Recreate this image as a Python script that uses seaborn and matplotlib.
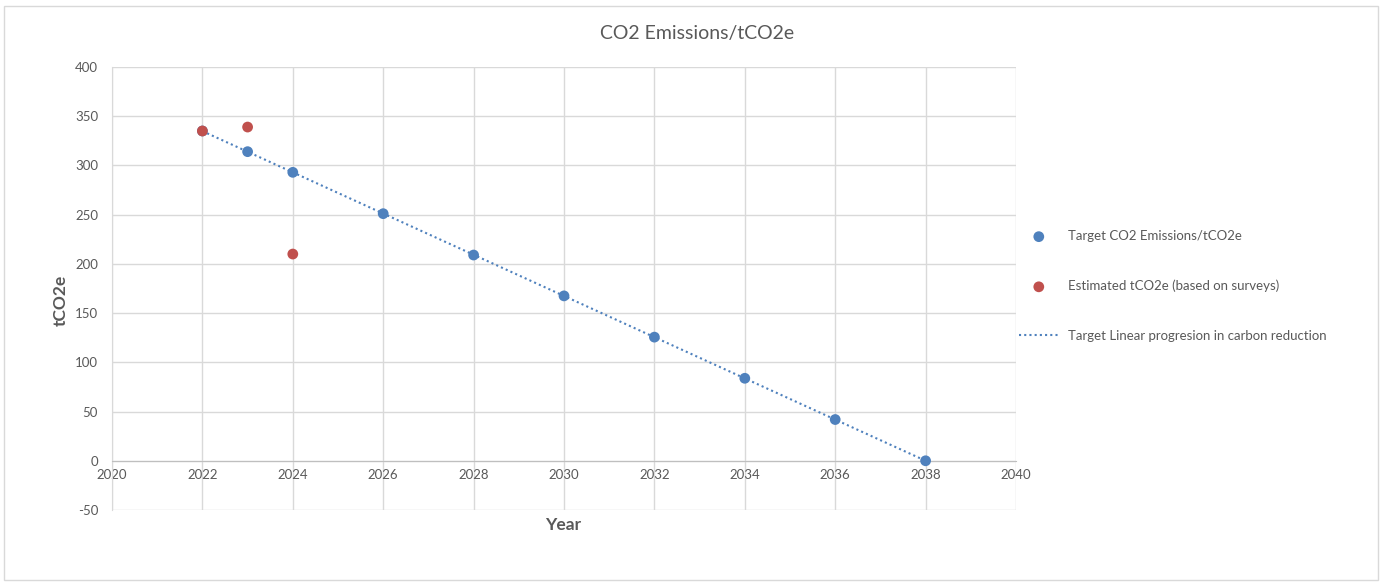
import numpy as np
import pandas as pd
import matplotlib.pyplot as plt
import seaborn as sns
from matplotlib.patches import Rectangle

# Datos
years_target = [2022, 2023, 2024, 2026, 2028, 2030, 2032, 2034, 2036, 2038]
target_co2 = [335, 314, 293, 251, 209, 167.5, 125.6, 83.8, 41.9, 0]

years_est = [2022, 2023, 2024]
estimated_co2 = [335, 339, 210]

x_ticks = [2020, 2022, 2024, 2026, 2028, 2030, 2032, 2034, 2036, 2038, 2040]
y_ticks = [-50, 0, 50, 100, 150, 200, 250, 300, 350, 400]

azul = "#4F81BD"
rojo = "#C0504D"
gris_texto = "#595959"
gris_grid = "#D9D9D9"

sns.set_style("white")
plt.rcParams["font.family"] = ["Lato", "DejaVu Sans"]
plt.rcParams["axes.unicode_minus"] = False

df_target = pd.DataFrame({"year": years_target, "co2": target_co2})
df_est = pd.DataFrame({"year": years_est, "co2": estimated_co2})

fig = plt.figure(figsize=(13.82, 5.84), dpi=100)
ax = fig.add_axes([112 / 1382, 1 - 510 / 584, (1016 - 112) / 1382, (510 - 67) / 584])

# borde del grafico estilo Excel
fig.patches.append(Rectangle((4 / 1382, 4 / 584), 1374 / 1382, 574 / 584,
                             transform=fig.transFigure, fill=False,
                             edgecolor=gris_grid, linewidth=1))

# linea de tendencia (ajuste lineal de los objetivos)
sns.regplot(data=df_target, x="year", y="co2", scatter=False, ci=None,
            truncate=True, ax=ax,
            line_kws={"color": azul, "linestyle": (0, (1, 1.5)), "linewidth": 1.5})
linea_tendencia = ax.lines[-1]

sns.scatterplot(data=df_target, x="year", y="co2", color=azul, s=60,
                edgecolor="none", ax=ax, label="Target CO2 Emissions/tCO2e", zorder=3)
sns.scatterplot(data=df_est, x="year", y="co2", color=rojo, s=60,
                edgecolor="none", ax=ax, label="Estimated tCO2e (based on surveys)", zorder=4)

ax.set_xlim(2020, 2040)
ax.set_ylim(-50, 400)
ax.set_xticks(x_ticks)
ax.set_yticks(y_ticks)
ax.grid(True, color=gris_grid, linewidth=1)
ax.set_axisbelow(True)

for lado in ["top", "right"]:
    ax.spines[lado].set_visible(False)
ax.spines["left"].set_color(gris_grid)
ax.spines["bottom"].set_position(("data", 0))
ax.spines["bottom"].set_color("#BFBFBF")
ax.tick_params(axis="both", length=0, labelsize=9.5, labelcolor=gris_texto)
ax.tick_params(axis="x", pad=6)
ax.tick_params(axis="y", pad=10)

ax.set_xlabel("")
ax.set_ylabel("")
fig.text(563 / 1382, 1 - 525 / 584, "Year", ha="center", va="center",
         fontsize=12.5, fontweight="bold", color=gris_texto)
fig.text(61 / 1382, 1 - 300 / 584, "tCO2e", ha="center", va="center", rotation=90,
         fontsize=12.5, fontweight="bold", color=gris_texto)
fig.text(697 / 1382, 1 - 33 / 584, "CO2 Emissions/tCO2e", ha="center", va="center",
         fontsize=14, color=gris_texto)

handles, labels = ax.get_legend_handles_labels()
i_t = labels.index("Target CO2 Emissions/tCO2e")
i_e = labels.index("Estimated tCO2e (based on surveys)")
ax.legend([handles[i_t], handles[i_e], linea_tendencia],
          [labels[i_t], labels[i_e], "Target Linear progresion in carbon reduction"],
          loc="center left", bbox_to_anchor=(1019 / 1382, 1 - 286 / 584),
          bbox_transform=fig.transFigure, frameon=False, fontsize=9.5,
          borderaxespad=0, borderpad=0,
          labelspacing=2.85, handlelength=3.0, handletextpad=0.7, labelcolor=gris_texto)

fig.savefig("out.png", dpi=100, facecolor="white")
